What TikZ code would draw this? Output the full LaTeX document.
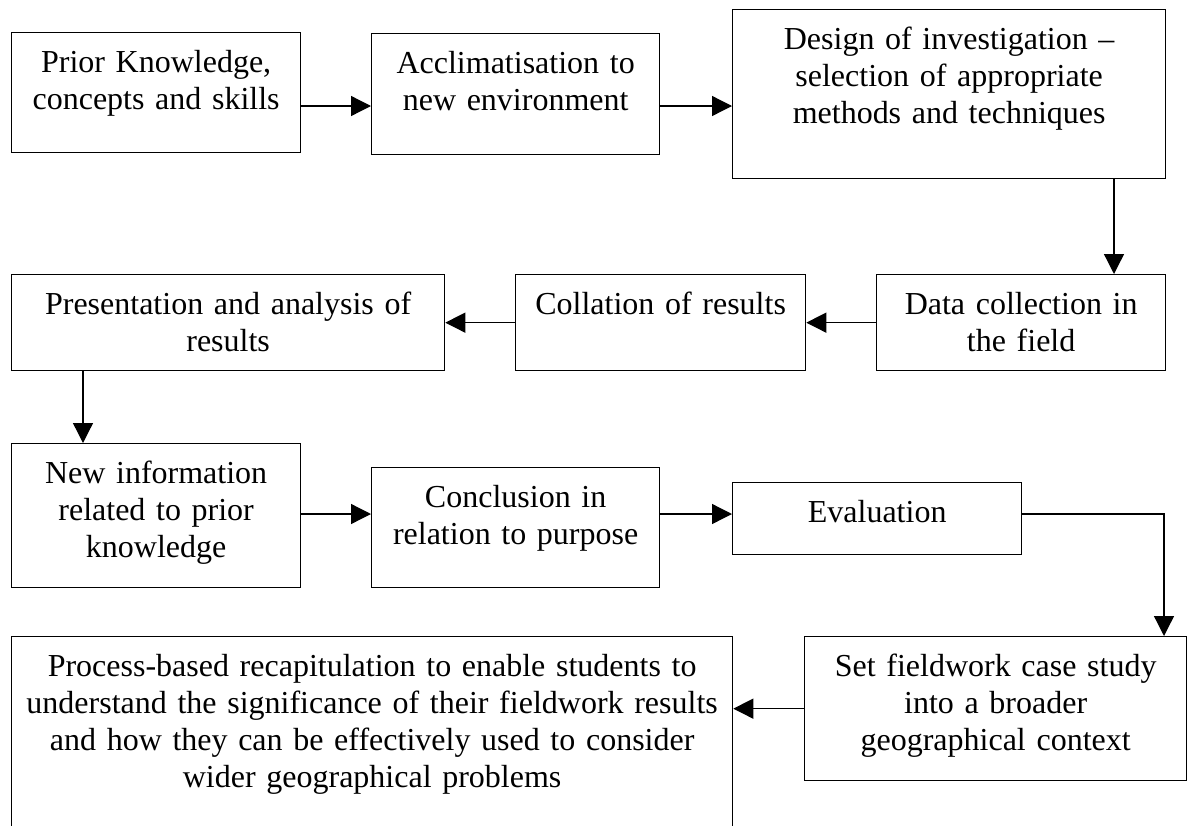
\documentclass[tikz,border=0pt]{standalone}
\usepackage{fontspec}
\setmainfont{Liberation Serif}
\usetikzlibrary{arrows.meta}
\begin{document}
\begin{tikzpicture}[x=0.5pt,y=-0.5pt,font=\fontsize{16}{18.4}\selectfont,line join=miter,
		stage/.style 2 args={draw,line width=0.65pt,inner sep=0pt,anchor=north west,align=center,
			text width=#1,text height=20pt,text depth=#2},
		arr/.style={-{Triangle[length=10pt,width=10pt]},line width=0.65pt}]
	\clip (0,0) rectangle (1189,825);
	% first row
	\node[stage={144.5pt}{40pt}] (prior) at (11,32) {Prior Knowledge,\\concepts and skills};
	\node[stage={144pt}{40.5pt}] (acclim) at (371,33) {Acclimatisation to\\new environment};
	\node[stage={216.5pt}{64.5pt}] (design) at (732,9) {Design of investigation --\\selection of appropriate\\methods and techniques};
	% second row
	\node[stage={144.5pt}{28pt}] (collect) at (876,274) {Data collection in\\the field};
	\node[stage={145pt}{28pt}] (collate) at (515,274) {Collation of results};
	\node[stage={216.5pt}{28pt}] (present) at (11,274) {Presentation and analysis of\\results};
	% third row
	\node[stage={144.5pt}{52pt}] (newinfo) at (11,443) {New information\\related to prior\\knowledge};
	\node[stage={144pt}{40pt}] (conclude) at (371,467) {Conclusion in\\relation to purpose};
	\node[stage={144.5pt}{16pt}] (evaluate) at (732,482) {Evaluation};
	% last row
	\node[stage={191pt}{52pt}] (context) at (804,636) {Set fieldwork case study\\into a broader\\geographical context};
	\node[stage={360.5pt}{105pt}] (recap) at (11,636) {Process-based recapitulation to enable students to\\understand the significance of their fieldwork results\\and how they can be effectively used to consider\\wider geographical problems};
	% arrows
	\coordinate (r1) at (0,106);
	\coordinate (r3) at (0,514);
	\coordinate (c1) at (1114,0);
	\coordinate (c2) at (83,0);
	\coordinate (c3) at (1164,0);
	\draw[arr] (prior.east |- r1) -- (acclim.west |- r1);
	\draw[arr] (acclim.east |- r1) -- (design.west |- r1);
	\draw[arr] (design.south -| c1) -- (collect.north -| c1);
	\draw[arr] (collect.west) -- (collect.west -| collate.east);
	\draw[arr] (collate.west |- collect.west) -- (collect.west -| present.east);
	\draw[arr] (present.south -| c2) -- (newinfo.north -| c2);
	\draw[arr] (newinfo.east |- r3) -- (conclude.west |- r3);
	\draw[arr] (conclude.east |- r3) -- (evaluate.west |- r3);
	\draw[arr] (evaluate.east |- r3) -| (context.north -| c3);
	\draw[arr] (context.west) -- (context.west -| recap.east);
\end{tikzpicture}
\end{document}
